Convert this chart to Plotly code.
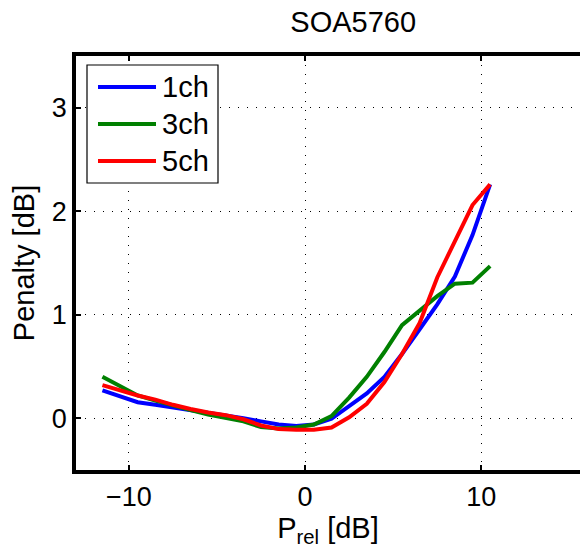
import plotly.graph_objects as go

# ---- data ----
p_rel = [-11.5, -10.5, -9.5, -8.5, -7.5, -6.5, -5.5, -4.5, -3.5, -2.5, -1.5, -0.5,
         0.5, 1.5, 2.5, 3.5, 4.5, 5.5, 6.5, 7.5, 8.5, 9.5, 10.5]
pen_1ch = [0.27, 0.21, 0.155, 0.13, 0.105, 0.075, 0.05, 0.025, 0.0, -0.03, -0.06, -0.075,
           -0.06, -0.005, 0.12, 0.24, 0.40, 0.62, 0.86, 1.10, 1.37, 1.77, 2.26]
pen_3ch = [0.40, 0.31, 0.22, 0.17, 0.12, 0.08, 0.035, 0.0, -0.03, -0.085, -0.10, -0.09,
           -0.06, 0.02, 0.20, 0.40, 0.64, 0.90, 1.04, 1.18, 1.30, 1.31, 1.47]
pen_5ch = [0.32, 0.27, 0.22, 0.18, 0.13, 0.09, 0.055, 0.03, -0.01, -0.07, -0.105, -0.11,
           -0.11, -0.09, 0.01, 0.14, 0.35, 0.62, 0.92, 1.36, 1.70, 2.06, 2.26]
series_names = ["1ch", "3ch", "5ch"]
series_colors = ["#0000FF", "#008000", "#FF0000"]
x_ticks = [-10, 0, 10]
y_ticks = [0, 1, 2, 3]
title_text = "SOA5760"
x_title = "P<sub>rel</sub> [dB]"
y_title = "Penalty [dB]"

FONT = "Liberation Sans, Arial, sans-serif"

# plot-area geometry (pixels) used to place the MATLAB-style legend box
W, H = 580, 551
ML, MR, MT, MB = 76, 0, 56, 81
PW, PH = W - ML - MR, H - MT - MB


def px(x):
    return (x - ML) / PW


def py(y):
    return (H - MB - y) / PH


fig = go.Figure()
for name, ys, col in zip(series_names, [pen_1ch, pen_3ch, pen_5ch], series_colors):
    fig.add_trace(go.Scatter(x=p_rel, y=ys, mode="lines", name=name,
                             line=dict(color=col, width=4)))

axis_common = dict(
    showline=True, linecolor="black", linewidth=3.5,
    ticks="inside", ticklen=5, tickwidth=2, tickcolor="black",
    showgrid=True, gridcolor="black", gridwidth=1, griddash="1px,8px",
    zeroline=False,
    tickfont=dict(family=FONT, size=27, color="black"),
)

fig.update_xaxes(range=[-13, 15.6], tickvals=x_ticks,
                 ticktext=["\u221210", "0", "10"],
                 mirror="ticks",
                 title=dict(text=x_title, font=dict(family=FONT, size=29, color="black"), standoff=4),
                 **axis_common)
fig.update_yaxes(range=[-0.5, 3.5], tickvals=y_ticks, mirror=False,
                 title=dict(text=y_title, font=dict(family=FONT, size=29, color="black"), standoff=10),
                 **axis_common)

# legend drawn MATLAB-style (box, long line samples, labels)
shapes = [dict(type="rect", xref="paper", yref="paper",
               x0=px(87), x1=px(218), y0=py(183), y1=py(65),
               line=dict(color="black", width=1.2), fillcolor="white", layer="above")]
annotations = []
for i, (name, col) in enumerate(zip(series_names, series_colors)):
    yy = 87 + 37 * i
    shapes.append(dict(type="line", xref="paper", yref="paper",
                       x0=px(98), x1=px(156), y0=py(yy), y1=py(yy),
                       line=dict(color=col, width=4), layer="above"))
    annotations.append(dict(text=name, xref="paper", yref="paper",
                            x=px(160), y=py(yy), xanchor="left", yanchor="middle",
                            showarrow=False,
                            font=dict(family=FONT, size=29, color="black")))

fig.update_layout(
    width=W, height=H,
    margin=dict(l=ML, r=MR, t=MT, b=MB),
    paper_bgcolor="white", plot_bgcolor="white",
    title=dict(text=title_text, x=0.609, xanchor="center", y=0.96, yanchor="middle",
               font=dict(family=FONT, size=29, color="black")),
    showlegend=False,
    shapes=shapes,
    annotations=annotations,
)

fig.write_html("out.html")
